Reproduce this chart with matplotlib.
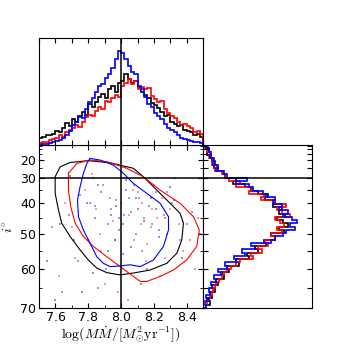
import numpy as np
import matplotlib
matplotlib.use('Agg')
import matplotlib.pyplot as plt
from matplotlib.ticker import FixedLocator, NullFormatter, MultipleLocator

plt.rcParams['mathtext.fontset'] = 'cm'
plt.rcParams['font.size'] = 9
plt.rcParams['xtick.direction'] = 'in'
plt.rcParams['ytick.direction'] = 'in'

# top histogram: log(M Mdot), 50 bins 7.5 .. 8.5
mdot_edges = np.linspace(7.5, 8.5, 51)
mdot_black = [7, 8, 9, 9, 10, 13, 12, 16, 21, 18,
              24, 22, 27, 31, 28, 38, 36, 40, 45, 48,
              44, 52, 55, 50, 58, 60, 66, 62, 58, 60,
              54, 50, 47, 44, 39, 37, 35, 31, 27, 28,
              22, 20, 18, 19, 14, 13, 12, 9, 10, 8]
mdot_red = [2, 3, 3, 5, 6, 7, 9, 8, 12, 14,
            16, 19, 17, 22, 26, 28, 27, 32, 36, 34,
            41, 40, 44, 47, 45, 55, 58, 62, 57, 60,
            52, 54, 52, 53, 46, 43, 40, 41, 34, 30,
            27, 25, 22, 19, 20, 18, 16, 12, 13, 10]
mdot_blue = [0, 1, 1, 2, 3, 4, 5, 7, 9, 13,
             19, 22, 26, 25, 34, 40, 44, 50, 55, 57,
             63, 66, 72, 80, 88, 86, 80, 74, 68, 66,
             55, 52, 45, 38, 36, 30, 27, 24, 20, 16,
             14, 12, 9, 7, 6, 5, 4, 3, 3, 2]

# right histogram: cos(i), 50 bins from cos(70 deg) to 1 (listed top to bottom)
cosi_edges = np.linspace(1.0, np.cos(np.radians(70)), 51)
incl_black = [3, 5, 4, 7, 8, 11, 10, 14, 18, 20,
              30, 27, 38, 44, 50, 60, 57, 66, 64, 72,
              70, 75, 68, 73, 78, 70, 74, 62, 66, 56,
              58, 48, 50, 40, 42, 30, 33, 22, 24, 17,
              19, 12, 14, 8, 11, 6, 8, 4, 6, 3]
incl_red = [2, 4, 6, 5, 9, 8, 13, 11, 17, 20,
            24, 34, 30, 45, 42, 56, 53, 65, 76, 68,
            72, 80, 66, 71, 74, 68, 72, 62, 66, 57,
            60, 50, 54, 44, 46, 34, 30, 26, 22, 19,
            17, 15, 12, 11, 9, 8, 6, 5, 4, 3]
incl_blue = [3, 5, 7, 6, 10, 9, 14, 12, 19, 22,
             40, 30, 42, 46, 55, 58, 66, 64, 72, 70,
             78, 73, 82, 86, 80, 84, 76, 73, 66, 62,
             44, 48, 36, 38, 28, 30, 20, 22, 14, 16,
             10, 12, 7, 8, 5, 6, 3, 5, 2, 3]

# contours (log M Mdot, i in degrees)
cont_black_x = [7.80, 7.933, 8.075, 8.136, 8.218, 8.299, 8.36, 8.38, 8.37, 8.34,
                8.279, 8.177, 8.075, 7.994, 7.913, 7.852, 7.80, 7.75, 7.689, 7.638,
                7.618, 7.598, 7.598, 7.628, 7.689, 7.80]
cont_black_i = [20.4, 21.8, 25.0, 29.3, 35.1, 40.1, 43.6, 46.8, 51.9, 55.7,
                58.5, 60.3, 61.1, 61.6, 61.0, 59.8, 57.6, 54.8, 50.9, 46.8,
                42.4, 36.4, 29.3, 24.2, 21.6, 20.4]
cont_red_x = [7.679, 7.730, 7.811, 7.913, 8.035, 8.136, 8.238, 8.36, 8.441, 8.477,
              8.461, 8.40, 8.319, 8.238, 8.157, 8.116, 8.075, 7.994, 7.913, 7.831,
              7.770, 7.72, 7.693, 7.679, 7.679]
cont_red_i = [27.6, 22.2, 20.0, 21.1, 25.0, 29.3, 35.1, 40.1, 44.7, 48.9,
              53.8, 57.6, 60.3, 62.0, 63.3, 63.3, 62.0, 59.4, 56.7, 53.8,
              50.9, 46.8, 41.3, 35.1, 27.6]
cont_blue_x = [7.811, 7.872, 7.953, 8.014, 8.075, 8.157, 8.238, 8.289, 8.289, 8.258,
               8.197, 8.116, 8.055, 7.994, 7.933, 7.892, 7.852, 7.811, 7.770, 7.740,
               7.734, 7.75, 7.770, 7.791, 7.811]
cont_blue_i = [18.9, 20.0, 23.2, 27.6, 32.3, 36.4, 40.1, 44.7, 48.9, 53.8,
               57.6, 59.4, 58.9, 59.2, 59.4, 58.5, 56.7, 52.9, 48.9, 44.7,
               38.9, 33.7, 27.6, 22.2, 18.9]

# scattered samples
pts_red_x = [7.62, 7.70, 7.78, 7.85, 7.88, 7.93, 7.95, 7.98, 8.02, 8.05, 8.08, 8.10, 8.13, 8.15,
             8.18, 8.20, 8.22, 8.25, 8.28, 8.30, 8.35, 8.38, 8.42, 8.45, 7.72, 7.82, 7.90, 8.00,
             8.07, 8.12, 8.16, 8.24, 8.33, 8.47, 7.66, 7.96, 8.04, 8.19, 8.27, 7.87]
pts_red_i = [62, 48, 35, 42, 55, 38, 46, 66, 30, 44, 52, 36, 40, 58,
             48, 33, 45, 38, 50, 42, 47, 55, 52, 60, 57, 28, 64, 40,
             35, 47, 53, 62, 30, 45, 40, 52, 68, 42, 57, 50]
pts_blue_x = [7.58, 7.68, 7.75, 7.80, 7.84, 7.89, 7.92, 7.97, 8.01, 8.03, 8.06, 8.09, 8.11, 8.14,
              8.17, 8.21, 8.23, 8.26, 8.31, 8.36, 7.74, 7.83, 7.91, 7.99, 8.08, 8.13, 8.19, 7.86,
              7.94, 8.05, 7.64, 8.40, 8.28, 7.96, 8.02, 7.81]
pts_blue_i = [48, 44, 37, 52, 41, 33, 47, 39, 56, 35, 43, 50, 38, 45,
              41, 36, 49, 44, 40, 52, 58, 30, 60, 45, 33, 55, 47, 65,
              42, 38, 66, 47, 36, 52, 44, 40]
pts_black_x = [7.55, 7.63, 7.71, 7.79, 7.83, 7.88, 7.94, 7.99, 8.03, 8.06, 8.10, 8.14, 8.18, 8.23,
               8.27, 8.32, 8.37, 8.43, 7.76, 7.86, 7.92, 8.01, 8.09, 8.16, 8.21, 7.69, 7.97, 8.12,
               8.30, 7.60, 8.48, 7.84]
pts_black_i = [58, 47, 52, 40, 61, 36, 44, 49, 31, 54, 42, 46, 38, 51,
               45, 39, 57, 43, 66, 33, 55, 47, 38, 60, 42, 29, 41, 64,
               34, 68, 50, 45]

colors = ['k', 'r', 'b']


def to_cos(deg):
    return np.cos(np.radians(deg))


fig = plt.figure(figsize=(3.46, 3.48), dpi=100)
ax_main = fig.add_axes([0.113, 0.115, 0.474, 0.468])
ax_top = fig.add_axes([0.113, 0.583, 0.474, 0.308])
ax_right = fig.add_axes([0.587, 0.115, 0.315, 0.468])

# main panel
for px, pi, c in [(pts_black_x, pts_black_i, 'k'), (pts_red_x, pts_red_i, 'r'),
                  (pts_blue_x, pts_blue_i, 'b')]:
    ax_main.scatter(px, to_cos(np.array(pi)), s=0.7, marker='s', c=c, alpha=0.4, linewidths=0)
for cx, ci, c in [(cont_black_x, cont_black_i, 'k'), (cont_red_x, cont_red_i, 'r'),
                  (cont_blue_x, cont_blue_i, 'b')]:
    ax_main.plot(cx, to_cos(np.array(ci)), color=c, lw=0.8)
ax_main.axvline(8.0, color='k', lw=1.1)
ax_main.axhline(to_cos(30), color='k', lw=1.1)
ax_main.set_xlim(7.5, 8.5)
ax_main.set_ylim(to_cos(70), 1.0)
ax_main.set_xticks([7.6, 7.8, 8.0, 8.2, 8.4])
ax_main.xaxis.set_minor_locator(MultipleLocator(0.1))
major_deg = [20, 30, 40, 50, 60, 70]
minor_deg = [5, 10, 15, 25, 35, 45, 55, 65]
ax_main.yaxis.set_major_locator(FixedLocator(to_cos(np.array(major_deg))))
ax_main.set_yticklabels([str(d) for d in major_deg])
ax_main.yaxis.set_minor_locator(FixedLocator(to_cos(np.array(minor_deg))))
ax_main.tick_params(which='both', top=True, right=True, labelsize=9, pad=2)
ax_main.set_xlabel(r'$\log(M\dot{M}/[M_{\odot}^{2}{\rm yr}^{-1}])$', fontsize=10, labelpad=1)
ax_main.set_ylabel(r'$i^{\circ}$', fontsize=10, labelpad=3)

# top histogram
for vals, c in zip([mdot_black, mdot_red, mdot_blue], colors):
    ax_top.stairs(vals, mdot_edges, color=c, lw=1.2)
ax_top.axvline(8.0, color='k', lw=1.1)
ax_top.set_xlim(7.5, 8.5)
ax_top.set_ylim(0, 100)
ax_top.xaxis.set_major_locator(MultipleLocator(0.1))
ax_top.xaxis.set_major_formatter(NullFormatter())
ax_top.set_yticks([])
ax_top.tick_params(top=True)

# right histogram
for vals, c in zip([incl_black, incl_red, incl_blue], colors):
    ax_right.stairs(vals[::-1], cosi_edges[::-1], color=c, lw=1.2, orientation='horizontal')
ax_right.axhline(to_cos(30), color='k', lw=1.1)
ax_right.set_ylim(to_cos(70), 1.0)
ax_right.set_xlim(0, 100)
ax_right.set_xticks([])
ax_right.yaxis.set_major_locator(FixedLocator(to_cos(np.array(major_deg + minor_deg))))
ax_right.yaxis.set_major_formatter(NullFormatter())
ax_right.tick_params(left=True, right=True)

fig.savefig('out.png', dpi=100)
